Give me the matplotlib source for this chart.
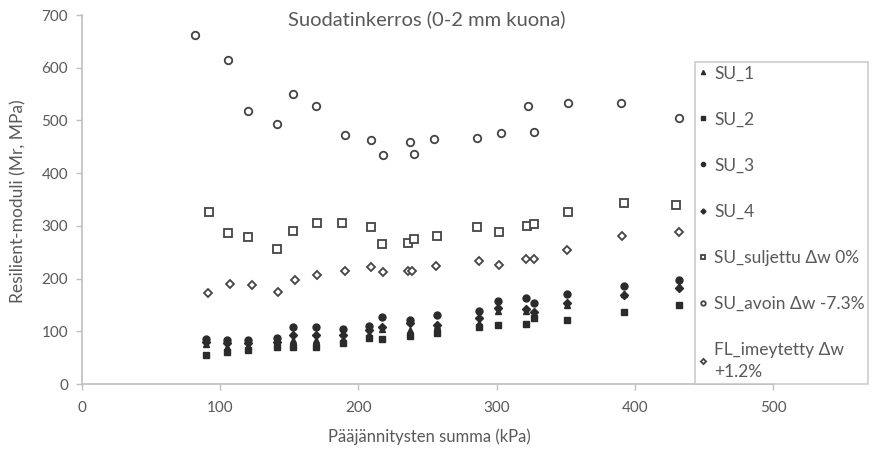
import matplotlib
matplotlib.use("Agg")
import matplotlib.pyplot as plt

plt.rcParams['font.family'] = ['Lato', 'DejaVu Sans']

# shared stress sums (kPa) for the filled series
x_su = [90, 105, 120, 141, 153, 169, 189, 208, 217, 237, 257, 287, 301, 321, 327, 351, 392, 432]

su_1 = [76, 70, 72, 75, 83, 83, 86, 94, 104, 102, 110, 116, 138, 139, 131, 150, 171, 185]
su_2 = [55, 60, 65, 70, 70, 70, 78, 88, 85, 92, 97, 108, 112, 114, 125, 121, 136, 150]
su_3 = [85, 84, 84, 87, 108, 108, 104, 110, 128, 122, 130, 139, 158, 163, 153, 170, 185, 197]
su_4 = [80, 78, 78, 80, 93, 93, 93, 102, 108, 115, 112, 125, 144, 142, 137, 153, 168, 182]

x_suljettu = [92, 106, 120, 141, 153, 170, 188, 209, 217, 236, 240, 257, 286, 302, 322, 327, 352, 392, 430]
suljettu = [327, 287, 278, 256, 290, 305, 305, 297, 266, 267, 275, 281, 297, 288, 300, 303, 327, 344, 340]

x_avoin = [82, 106, 120, 141, 153, 169, 190, 209, 218, 237, 240, 255, 286, 303, 323, 327, 352, 390, 432]
avoin = [663, 614, 518, 493, 551, 528, 472, 462, 434, 460, 436, 465, 467, 477, 528, 478, 534, 533, 505]

x_fl = [91, 107, 123, 142, 154, 170, 190, 209, 218, 236, 239, 256, 287, 302, 321, 327, 351, 391, 432]
fl = [172, 190, 187, 174, 198, 207, 214, 222, 212, 215, 215, 223, 233, 226, 238, 238, 254, 280, 289]

labels = ['SU_1', 'SU_2', 'SU_3', 'SU_4', 'SU_suljettu Δw 0%',
          'SU_avoin Δw -7.3%', 'FL_imeytetty Δw\n+1.2%']

dark = '#2b2b2b'
edge = '#444444'
gray = '#595959'
axis_gray = '#bfbfbf'

fig = plt.figure(figsize=(8.76, 4.5), dpi=100)
ax = fig.add_axes([82 / 876, 66 / 450, 691 / 876, 369 / 450])

ax.plot(x_su, su_1, '^', ms=5, color=dark, ls='none', label=labels[0])
ax.plot(x_su, su_2, 's', ms=5, color=dark, ls='none', label=labels[1])
ax.plot(x_su, su_3, 'o', ms=5, color=dark, ls='none', label=labels[2])
ax.plot(x_su, su_4, 'D', ms=4.3, color=dark, ls='none', label=labels[3])
ax.plot(x_suljettu, suljettu, 's', ms=5.2, mfc='white', mec=edge, mew=1.3, ls='none', label=labels[4])
ax.plot(x_avoin, avoin, 'o', ms=5.4, mfc='white', mec=edge, mew=1.3, ls='none', label=labels[5])
ax.plot(x_fl, fl, 'D', ms=4.4, mfc='white', mec=edge, mew=1.3, ls='none', label=labels[6])

ax.set_xlim(0, 500)
ax.set_ylim(0, 700)
ax.set_xticks(range(0, 501, 100))
ax.set_yticks(range(0, 701, 100))
for s in ['top', 'right']:
    ax.spines[s].set_visible(False)
for s in ['left', 'bottom']:
    ax.spines[s].set_color(axis_gray)
    ax.spines[s].set_linewidth(1.2)
ax.tick_params(colors=axis_gray, labelcolor=gray, labelsize=11, length=4, width=1)
ax.tick_params(axis='x', pad=8)
ax.tick_params(axis='y', pad=6)

fig.text(427 / 876, 1 - 19 / 450, 'Suodatinkerros (0-2 mm kuona)', ha='center', va='center',
         fontsize=14.5, color=gray)
fig.text(429 / 876, 1 - 437 / 450, 'Pääjännitysten summa (kPa)', ha='center', va='center',
         fontsize=12, color=gray)
fig.text(18 / 876, 1 - 201 / 450, 'Resilient-moduli (Mr, MPa)', ha='center', va='center',
         rotation=90, fontsize=12.5, color=gray)

leg = fig.legend(loc='upper left', bbox_to_anchor=(695 / 876, 1 - 62 / 450),
                 fontsize=12.5, labelcolor=gray, frameon=True, fancybox=False,
                 markerscale=0.6, handlelength=0.5, handletextpad=0.4,
                 labelspacing=1.73, borderpad=0.2, borderaxespad=0)
leg.get_frame().set_edgecolor(axis_gray)
leg.get_frame().set_linewidth(1.2)
for t in leg.get_texts():
    t.set_linespacing(1.5)

fig.savefig('out.png', dpi=100)
